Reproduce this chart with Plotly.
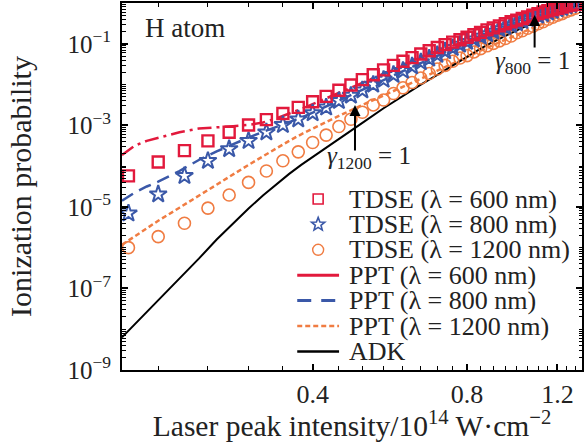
import math
import plotly.graph_objects as go

# ---------------- data ----------------
# TDSE intensities (10^14 W/cm^2)
tdse_I = [0.175, 0.2, 0.225, 0.25, 0.275, 0.3, 0.325, 0.35, 0.375, 0.4,
          0.425, 0.45, 0.475, 0.5, 0.525, 0.55, 0.575, 0.6, 0.625, 0.65,
          0.675, 0.7, 0.725, 0.75, 0.775, 0.8, 0.825, 0.85, 0.875, 0.9,
          0.925, 0.95, 0.975, 1.0, 1.025, 1.05, 1.075, 1.1, 1.125, 1.15,
          1.175, 1.2, 1.225, 1.25, 1.275, 1.3]
# log10 of ionization probability
tdse600_log = [-4.24, -3.90, -3.62, -3.38, -3.17, -2.99, -2.86, -2.71, -2.56, -2.42,
               -2.29, -2.14, -2.01, -1.88, -1.76, -1.64, -1.53, -1.43, -1.34, -1.25,
               -1.17, -1.09, -1.02, -0.96, -0.90, -0.84, -0.78, -0.72, -0.66, -0.61,
               -0.56, -0.51, -0.46, -0.42, -0.38, -0.34, -0.30, -0.26, -0.22, -0.19,
               -0.16, -0.13, -0.10, -0.07, -0.05, -0.03]
tdse800_log = [-5.16, -4.69, -4.24, -3.87, -3.58, -3.38, -3.17, -2.99, -2.85, -2.70,
               -2.56, -2.40, -2.27, -2.14, -2.00, -1.88, -1.76, -1.66, -1.55, -1.45,
               -1.36, -1.27, -1.18, -1.10, -1.02, -0.95, -0.89, -0.82, -0.76, -0.70,
               -0.64, -0.59, -0.54, -0.49, -0.44, -0.39, -0.35, -0.31, -0.27, -0.23,
               -0.19, -0.15, -0.12, -0.08, -0.05, -0.02]
tdse1200_log = [-6.00, -5.73, -5.40, -5.03, -4.71, -4.40, -4.12, -3.87, -3.65, -3.42,
                -3.24, -3.03, -2.85, -2.68, -2.50, -2.38, -2.22, -2.08, -1.95, -1.84,
                -1.73, -1.62, -1.53, -1.43, -1.35, -1.29, -1.20, -1.12, -1.05, -0.99,
                -0.93, -0.87, -0.81, -0.73, -0.68, -0.62, -0.57, -0.51, -0.46, -0.40,
                -0.35, -0.30, -0.26, -0.21, -0.17, -0.13]

# model curves
model_I = [0.17, 0.18, 0.19, 0.2, 0.22, 0.24, 0.26, 0.28, 0.3, 0.32, 0.34, 0.36, 0.38, 0.4,
           0.45, 0.5, 0.55, 0.6, 0.65, 0.7, 0.75, 0.8, 0.85, 0.9, 0.95, 1.0, 1.05, 1.1,
           1.15, 1.2, 1.25, 1.3, 1.34]
ppt600_log = [-3.73, -3.50, -3.38, -3.30, -3.17, -3.08, -3.04, -3.02, -2.99, -2.93, -2.83, -2.72, -2.60, -2.48,
              -2.20, -1.95, -1.72, -1.52, -1.34, -1.18, -1.04, -0.92, -0.81, -0.70, -0.60, -0.51, -0.43, -0.35,
              -0.28, -0.21, -0.15, -0.09, -0.05]
ppt800_log = [-4.85, -4.65, -4.50, -4.38, -4.12, -3.85, -3.64, -3.46, -3.30, -3.16, -3.04, -2.93, -2.81, -2.69,
              -2.40, -2.14, -1.89, -1.67, -1.47, -1.29, -1.12, -0.97, -0.84, -0.72, -0.61, -0.51, -0.42, -0.33,
              -0.25, -0.17, -0.10, -0.04, 0.0]
ppt1200_log = [-5.93, -5.72, -5.52, -5.34, -5.02, -4.72, -4.45, -4.20, -3.97, -3.76, -3.56, -3.38, -3.22, -3.08,
               -2.77, -2.50, -2.27, -2.06, -1.86, -1.66, -1.48, -1.32, -1.17, -1.03, -0.90, -0.78, -0.66, -0.55,
               -0.44, -0.34, -0.25, -0.16, -0.10]
adk_log = [-8.20, -7.88, -7.58, -7.30, -6.78, -6.27, -5.80, -5.40, -5.04, -4.72, -4.44, -4.19, -3.97, -3.78,
           -3.35, -2.94, -2.58, -2.27, -2.00, -1.76, -1.53, -1.31, -1.12, -0.95, -0.80, -0.67, -0.55, -0.43,
           -0.33, -0.24, -0.15, -0.08, -0.03]

x_tickvals = [0.4, 0.8, 1.2]
x_ticktext = ["0.4", "0.8", "1.2"]
x_minor = [0.2, 0.25, 0.3, 0.35, 0.45, 0.5, 0.55, 0.6, 0.65, 0.7, 0.75, 0.85, 0.9, 0.95,
           1.0, 1.05, 1.1, 1.15, 1.25, 1.3]
y_labelled = [-9, -7, -5, -3, -1]
y_ticktext = ["10<sup>−9</sup>", "10<sup>−7</sup>", "10<sup>−5</sup>", "10<sup>−3</sup>", "10<sup>−1</sup>"]

legend_labels = ["TDSE (λ = 600 nm)", "TDSE (λ = 800 nm)", "TDSE (λ = 1200 nm)",
                 "PPT (λ = 600 nm)", "PPT (λ = 800 nm)", "PPT (λ = 1200 nm)", "ADK"]

RED = "#E2193C"
BLUE = "#3A58A8"
ORANGE = "#F07C42"
TXT = "#222222"
FONT = "Liberation Serif"

# figure geometry (pixels)
W, H = 585, 442
ML, MR, MT, MB = 122, 1, 3, 72
PW, PH = W - ML - MR, H - MT - MB


def p(vals):
    return [10 ** v for v in vals]


def px2paper(x, y):
    return (x - ML) / PW, (H - MB - y) / PH


fig = go.Figure()

# model curves (beneath markers)
fig.add_trace(go.Scatter(x=model_I, y=p(ppt600_log), mode="lines", name=legend_labels[3],
                         line=dict(color=RED, width=2.5, dash="14px,5px,3px,5px")))
fig.add_trace(go.Scatter(x=model_I, y=p(ppt800_log), mode="lines", name=legend_labels[4],
                         line=dict(color=BLUE, width=2.5, dash="13px,7px")))
fig.add_trace(go.Scatter(x=model_I, y=p(ppt1200_log), mode="lines", name=legend_labels[5],
                         line=dict(color=ORANGE, width=2.5, dash="5px,3px")))
fig.add_trace(go.Scatter(x=model_I, y=p(adk_log), mode="lines", name=legend_labels[6],
                         line=dict(color="black", width=2)))
# TDSE markers
fig.add_trace(go.Scatter(x=tdse_I, y=p(tdse1200_log), mode="markers", name=legend_labels[2],
                         marker=dict(symbol="circle-open", size=12, color=ORANGE, line=dict(width=1.6))))
fig.add_trace(go.Scatter(x=tdse_I, y=p(tdse800_log), mode="markers", name=legend_labels[1],
                         marker=dict(symbol="star-open", size=13, color=BLUE, line=dict(width=2))))
fig.add_trace(go.Scatter(x=tdse_I, y=p(tdse600_log), mode="markers", name=legend_labels[0],
                         marker=dict(symbol="square-open", size=11, color=RED, line=dict(width=2.4))))

y_minor = [k * 10 ** e for e in range(-9, 0) for k in range(2, 10)] + [10 ** e for e in (-8, -6, -4, -2, 0)]

fig.update_layout(
    width=W, height=H,
    margin=dict(l=ML, r=MR, t=MT, b=MB),
    plot_bgcolor="white", paper_bgcolor="white",
    font=dict(family=FONT, size=20, color=TXT),
    showlegend=False,
    xaxis=dict(type="log", range=[math.log10(0.17), math.log10(1.34)],
               tickmode="array", tickvals=x_tickvals, ticktext=x_ticktext,
               ticks="inside", ticklen=6, tickwidth=1.5, tickcolor="black",
               showline=True, linecolor="black", linewidth=2, mirror="allticks",
               showgrid=False, zeroline=False,
               minor=dict(tickmode="array", tickvals=x_minor, ticks="inside",
                          ticklen=4, tickwidth=1.2, tickcolor="black", showgrid=False),
               tickfont=dict(size=26),
               title=dict(text="Laser peak intensity/10<sup>14</sup> W·cm<sup>−2</sup>",
                          font=dict(size=29.5), standoff=1)),
    yaxis=dict(type="log", range=[-9, 0],
               tickmode="array", tickvals=[10 ** e for e in y_labelled], ticktext=y_ticktext,
               ticks="inside", ticklen=6, tickwidth=1.5, tickcolor="black",
               showline=True, linecolor="black", linewidth=2, mirror="allticks",
               showgrid=False, zeroline=False, ticklabelstandoff=4,
               minor=dict(tickmode="array", tickvals=y_minor,
                          ticks="inside", ticklen=3.5, tickwidth=1, tickcolor="black", showgrid=False),
               tickfont=dict(size=25),
               title=dict(text="Ionization probability", font=dict(size=30), standoff=27)),
)

annotations = [
    dict(text="H atom", x=0.045, y=0.932, xref="paper", yref="paper", xanchor="left", yanchor="middle",
         showarrow=False, font=dict(size=27, family=FONT, color=TXT)),
    # gamma_1200 arrow
    dict(text="", x=0.5065, y=0.722, xref="paper", yref="paper", showarrow=True,
         ax=0, ay=47, arrowhead=2, arrowsize=1.1, arrowwidth=2, arrowcolor="black"),
    dict(text="<i>γ</i><sub>1200</sub> = 1", x=0.537, y=0.578, xref="paper", yref="paper",
         xanchor="center", yanchor="middle", showarrow=False,
         font=dict(size=25, family=FONT, color=TXT)),
    # gamma_800 arrow
    dict(text="", x=0.897, y=0.967, xref="paper", yref="paper", showarrow=True,
         ax=0, ay=34, arrowhead=2, arrowsize=1.1, arrowwidth=2, arrowcolor="black"),
    dict(text="<i>γ</i><sub>800</sub> = 1", x=0.893, y=0.839, xref="paper", yref="paper",
         xanchor="center", yanchor="middle", showarrow=False,
         font=dict(size=25, family=FONT, color=TXT)),
]

# ---- hand-built legend (tighter rows than plotly's legend allows) ----
row0, row_gap = 199.0, 25.4
text_x, sym_x, line_x0, line_x1 = 348, 319, 298, 340
shapes = []
for k, lab in enumerate(legend_labels):
    yc = row0 + k * row_gap
    tx, ty = px2paper(text_x, yc)
    annotations.append(dict(text=lab, x=tx, y=ty, xref="paper", yref="paper",
                            xanchor="left", yanchor="middle", showarrow=False,
                            font=dict(size=26, family=FONT, color=TXT)))


def rect_px(cx, cy, half):
    x0, y0 = px2paper(cx - half, cy + half)
    x1, y1 = px2paper(cx + half, cy - half)
    return x0, y0, x1, y1


# marker samples
x0, y0, x1, y1 = rect_px(sym_x, row0, 5)
shapes.append(dict(type="rect", xref="paper", yref="paper", x0=x0, y0=y0, x1=x1, y1=y1,
                   line=dict(color=RED, width=1.6)))
cy = row0 + row_gap
pts = []
for i in range(10):
    r = 7.0 if i % 2 == 0 else 3.0
    a = -math.pi / 2 + i * math.pi / 5
    sx, sy = px2paper(sym_x + r * math.cos(a), cy + r * math.sin(a))
    pts.append("%.5f,%.5f" % (sx, sy))
shapes.append(dict(type="path", xref="paper", yref="paper", path="M" + " L".join(pts) + " Z",
                   line=dict(color=BLUE, width=1.6)))
x0, y0, x1, y1 = rect_px(sym_x, row0 + 2 * row_gap, 5.5)
shapes.append(dict(type="circle", xref="paper", yref="paper", x0=x0, y0=y0, x1=x1, y1=y1,
                   line=dict(color=ORANGE, width=1.4)))
# line samples
line_styles = [(RED, "solid", 3), (BLUE, "14px,10px", 3), (ORANGE, "5px,3px", 2.5), ("black", "solid", 2.5)]
for j, (col, dsh, wd) in enumerate(line_styles):
    yc = row0 + (3 + j) * row_gap
    lx0, ly = px2paper(line_x0, yc)
    lx1, _ = px2paper(line_x1, yc)
    shapes.append(dict(type="line", xref="paper", yref="paper", x0=lx0, y0=ly, x1=lx1, y1=ly,
                       line=dict(color=col, width=wd, dash=dsh)))

fig.update_layout(annotations=annotations, shapes=shapes)

fig.write_html("out.html")
